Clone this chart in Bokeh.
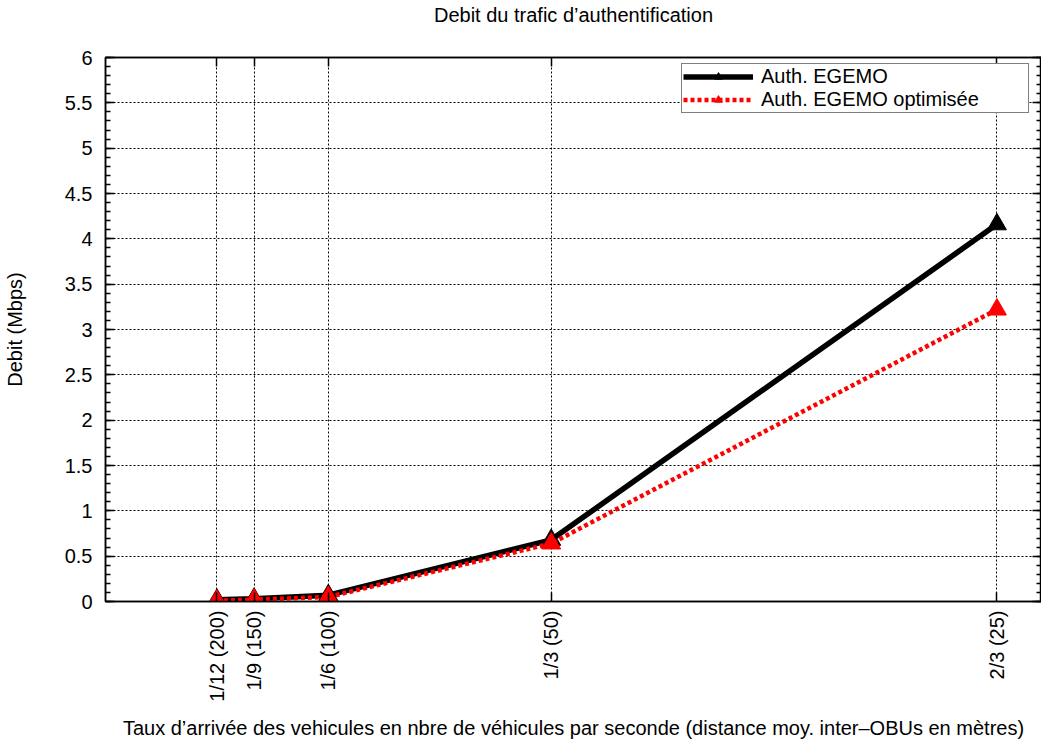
from bokeh.plotting import figure
from bokeh.models import (FixedTicker, LinearAxis, Range1d, Legend, LegendItem,
                          SingleIntervalTicker)
from bokeh.embed import file_html
from bokeh.resources import INLINE

# data
x_vals = [1/12, 1/9, 1/6, 1/3, 2/3]
x_labels = ["1/12 (200)", "1/9 (150)", "1/6 (100)", "1/3 (50)", "2/3 (25)"]
egemo = [0.02, 0.03, 0.07, 0.68, 4.16]
egemo_opt = [0.01, 0.02, 0.05, 0.64, 3.22]
series_names = ["Auth. EGEMO", "Auth. EGEMO optimisée"]
title_text = "Debit du trafic d\u2019authentification"

FONT = "Liberation Sans"
FS = "20px"

p = figure(frame_width=936, frame_height=544, output_backend="svg", toolbar_location=None,
           x_range=Range1d(0, 0.7), y_range=Range1d(0, 6),
           min_border_left=0, min_border_right=0, min_border_top=0,
           min_border_bottom=0)

p.outline_line_color = "black"
p.outline_line_width = 1.5
p.background_fill_color = "white"

bx = p.below[0]
ly = p.left[0]

bx.ticker = FixedTicker(ticks=x_vals)
bx.major_label_overrides = {x: l for x, l in zip(x_vals, x_labels)}
bx.major_label_orientation = 1.5708
bx.axis_label = "Taux d\u2019arrivée des vehicules en nbre de véhicules par seconde (distance moy. inter\u2013OBUs en mètres)"
ly.axis_label = "Debit (Mbps)"
ly.ticker = SingleIntervalTicker(interval=0.5, num_minor_ticks=5)

# mirrored axes
ry = LinearAxis(ticker=SingleIntervalTicker(interval=0.5, num_minor_ticks=5))
p.add_layout(ry, "right")
tx = LinearAxis(ticker=FixedTicker(ticks=x_vals), axis_label=title_text)
p.add_layout(tx, "above")

for ax in (bx, ly, ry, tx):
    ax.axis_label_text_font = FONT
    ax.axis_label_text_font_size = FS
    ax.axis_label_text_font_style = "normal"
    ax.axis_label_text_color = "black"
    ax.major_label_text_font = FONT
    ax.major_label_text_font_size = FS
    ax.major_label_text_color = "black"
    ax.major_tick_in = 9
    ax.major_tick_out = 0
    ax.minor_tick_in = 5
    ax.minor_tick_out = 0
    ax.axis_line_width = 1.5
    ax.axis_line_color = "black"
    ax.major_tick_line_width = 1.5
    ax.minor_tick_line_width = 1.5
    ax.major_tick_line_color = "black"
    ax.minor_tick_line_color = "black"

tx.minor_tick_in = 0
tx.major_label_text_font_size = "0px"
tx.major_label_standoff = 0
tx.axis_label_standoff = 32
ry.major_label_text_font_size = "0px"
ry.major_label_standoff = 0
ry.axis_label_standoff = 0

bx.axis_label_standoff = 12
bx.major_label_standoff = 9
ly.axis_label_standoff = 36
ly.major_label_standoff = 13

p.xgrid.grid_line_color = "black"
p.xgrid.grid_line_dash = "2 2"
p.xgrid.grid_line_width = 1
p.ygrid.grid_line_color = "black"
p.ygrid.grid_line_dash = "2 2"
p.ygrid.grid_line_width = 1

l1 = p.line(x_vals, egemo, line_color="black", line_width=5.5)
m1 = p.scatter(x_vals, egemo, marker="triangle", size=19, fill_color="black", line_color="black")
l2 = p.line(x_vals, egemo_opt, line_color="red", line_width=4.5, line_dash="4 3")
m2 = p.scatter(x_vals, egemo_opt, marker="triangle", size=19, fill_color="red", line_color="red")

legend = Legend(items=[LegendItem(label=series_names[0], renderers=[l1, m1]),
                       LegendItem(label=series_names[1], renderers=[l2, m2])],
                location=(576, 488), border_line_color="black", border_line_width=1.5,
                label_text_font=FONT, label_text_font_size=FS, label_text_color="black",
                glyph_width=70, glyph_height=19, spacing=0, padding=1, margin=0,
                label_height=19, label_standoff=8, background_fill_alpha=1,
                label_width=266)
p.add_layout(legend)

open("out.html", "w").write(file_html(p, INLINE))
